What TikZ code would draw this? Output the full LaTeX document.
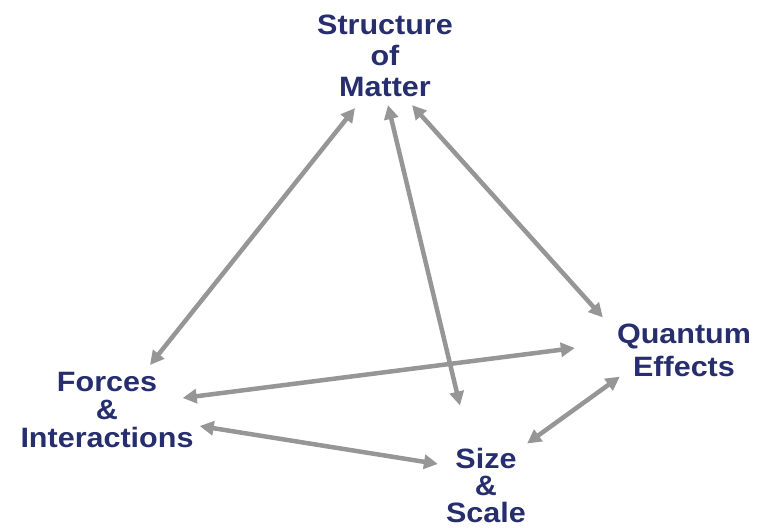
\documentclass[tikz,border=0pt]{standalone}
\usepackage{fontspec}
\setmainfont{Liberation Sans}
\usepackage{tikz}
\usetikzlibrary{arrows.meta, positioning, calc}
\definecolor{mynavy}{RGB}{38,46,110}
\definecolor{mygrey}{RGB}{150,150,150}
\tikzset{
  topic/.style={align=center, inner sep=0pt, text=mynavy,
    font=\fontsize{28}{28}\selectfont\bfseries, xscale=1.09, transform shape},
  link/.style={{Triangle[length=14pt,width=14pt]}-{Triangle[length=14pt,width=14pt]},
    line width=4.5pt, color=mygrey}
}
\begin{document}
\begin{tikzpicture}[x=1pt, y=-1pt]
  \useasboundingbox (0,0) rectangle (757,527);

  % Topics
  \node[topic, font=\fontsize{28}{31}\selectfont\bfseries] (matter) at (385, 56) {Structure\\of\\Matter};
  \node[topic] (forces) at (107, 410) {Forces\\\&\\Interactions};
  \node[topic, font=\fontsize{28}{33}\selectfont\bfseries] (quantum) at (684, 350) {Quantum\\Effects};
  \node[topic, font=\fontsize{28}{27}\selectfont\bfseries] (size) at (486, 485) {Size\\\&\\Scale};

  % Links
  \draw[link] ([shift={(-30,11)}]matter.south) -- ([shift={(43,-7)}]forces.north);
  \draw[link] ([shift={(3,8)}]matter.south) -- ([shift={(-26,-42)}]size.north);
  \draw[link] ([shift={(27,8)}]matter.south) -- ([shift={(-14,-6)}]quantum.north west);
  \draw[link] ([shift={(-42,-2)}]quantum.west) -- ([shift={(-11,-12)}]forces.east);
  \draw[link] ([shift={(6,16)}]forces.east) -- ([shift={(-8,-21)}]size.west);
  \draw[link] ([shift={(1,-4)}]size.north east) -- ([shift={(3,0)}]quantum.south west);
\end{tikzpicture}
\end{document}
